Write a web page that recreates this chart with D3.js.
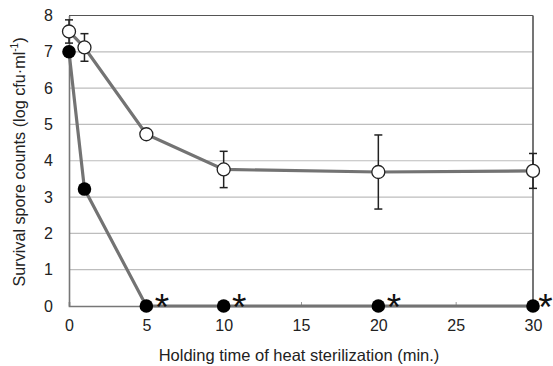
<!DOCTYPE html>
<html><head><meta charset="utf-8">
<script src="https://cdn.jsdelivr.net/npm/d3@7"></script>
<style>body{margin:0;background:#fff}svg{display:block}text{font-family:Arial,"Liberation Sans",sans-serif}</style>
</head><body>
<svg id="c" width="553" height="366"></svg>
<script>
const times = [0, 1, 5, 10, 20, 30];
const openVals = [7.56, 7.12, 4.73, 3.76, 3.69, 3.72];
const openErr = [0.32, 0.38, 0, 0.5, 1.02, 0.48];
const filledVals = [7.0, 3.22, 0, 0, 0, 0];
const starTimes = [5, 10, 20, 30];
const xTicks = [0, 5, 10, 15, 20, 25, 30];
const yTicks = [0, 1, 2, 3, 4, 5, 6, 7, 8];

const svg = d3.select("#c");
const x = d3.scaleLinear().domain([0, 30]).range([69, 533]);
const y = d3.scaleLinear().domain([0, 8]).range([306, 15.5]);

svg.append("g").selectAll("line").data(yTicks.filter(d => d > 0 && d < 8)).join("line")
  .attr("x1", x(0)).attr("x2", x(30)).attr("y1", d => y(d)).attr("y2", d => y(d))
  .attr("stroke", "#bdbdbd").attr("stroke-width", 1.2);

svg.append("line").attr("x1", x(0)).attr("x2", x(30)).attr("y1", y(8)).attr("y2", y(8))
  .attr("stroke", "#555").attr("stroke-width", 1.2);
svg.append("line").attr("x1", x(30)).attr("x2", x(30)).attr("y1", y(8)).attr("y2", y(0))
  .attr("stroke", "#666").attr("stroke-width", 1.8);

const xAxis = svg.append("g").attr("transform", `translate(0,${y(0)})`)
  .call(d3.axisBottom(x).tickValues(xTicks).tickSize(-4).tickPadding(14).tickFormat(d3.format("d")));
xAxis.select(".domain").attr("stroke", "#777").attr("stroke-width", 1.6);
xAxis.selectAll(".tick line").attr("stroke", "#999");
xAxis.selectAll("text").attr("font-size", 16).attr("fill", "#222");

const yAxis = svg.append("g").attr("transform", `translate(${x(0)},0)`)
  .call(d3.axisLeft(y).tickValues(yTicks).tickSize(0).tickPadding(16).tickFormat(d3.format("d")));
yAxis.select(".domain").attr("stroke", "#777").attr("stroke-width", 1.6);
yAxis.selectAll("text").attr("font-size", 16).attr("fill", "#222");

const line = d3.line().x((d, i) => x(times[i])).y(d => y(d));

svg.append("path").datum(filledVals).attr("d", line)
  .attr("fill", "none").attr("stroke", "#737373").attr("stroke-width", 3.2);
svg.append("path").datum(openVals).attr("d", line)
  .attr("fill", "none").attr("stroke", "#737373").attr("stroke-width", 3.2);

const eb = svg.append("g").selectAll("g").data(times.map((t, i) => ({t, v: openVals[i], e: openErr[i]})).filter(d => d.e > 0)).join("g");
eb.append("line").attr("x1", d => x(d.t)).attr("x2", d => x(d.t)).attr("y1", d => y(d.v + d.e)).attr("y2", d => y(d.v - d.e))
  .attr("stroke", "#222").attr("stroke-width", 1.5);
eb.append("line").attr("x1", d => x(d.t) - 4).attr("x2", d => x(d.t) + 4).attr("y1", d => y(d.v + d.e)).attr("y2", d => y(d.v + d.e))
  .attr("stroke", "#222").attr("stroke-width", 1.5);
eb.append("line").attr("x1", d => x(d.t) - 4).attr("x2", d => x(d.t) + 4).attr("y1", d => y(d.v - d.e)).attr("y2", d => y(d.v - d.e))
  .attr("stroke", "#222").attr("stroke-width", 1.5);

svg.append("g").selectAll("circle").data(openVals).join("circle")
  .attr("cx", (d, i) => x(times[i])).attr("cy", d => y(d)).attr("r", 6.5)
  .attr("fill", "#fff").attr("stroke", "#222").attr("stroke-width", 1.3);
svg.append("g").selectAll("circle").data(filledVals).join("circle")
  .attr("cx", (d, i) => x(times[i])).attr("cy", d => y(d)).attr("r", 6.8)
  .attr("fill", "#000");

// asterisks
svg.append("g").selectAll("text").data(starTimes).join("text")
  .attr("x", d => x(d) + (d === 30 ? 12.5 : 15.5)).attr("y", y(0) + 14).attr("text-anchor", "middle")
  .attr("font-family", "DejaVu Sans").attr("font-size", 37).attr("fill", "#111").text("*");

svg.append("text").attr("x", 299).attr("y", 361).attr("text-anchor", "middle")
  .attr("font-size", 16.5).attr("fill", "#222").text("Holding time of heat sterilization (min.)");

const yl = svg.append("text").attr("transform", `translate(25,162) rotate(-90)`)
  .attr("text-anchor", "middle").attr("font-size", 16.2).attr("fill", "#222");
yl.append("tspan").text("Survival spore counts (log cfu\u00b7ml");
yl.append("tspan").attr("font-size", 10).attr("dy", -7).text("-1");
yl.append("tspan").attr("dy", 7).text(")");
</script>
</body></html>
